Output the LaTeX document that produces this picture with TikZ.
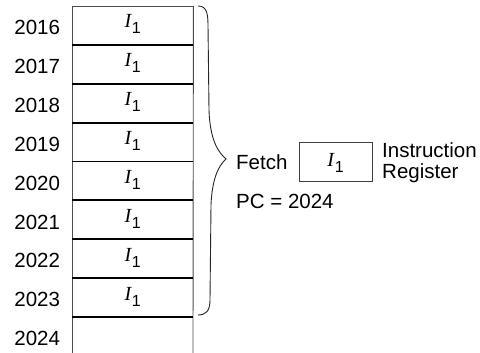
\documentclass[tikz,border=0pt]{standalone}
\usepackage{fontspec}
\setmainfont{Liberation Sans}
\newfontfamily\serifit{Liberation Serif}
% instruction symbol: italic serif I with a sans subscript 1
\newcommand\instrI{{\serifit\itshape\fontsize{20}{20}\selectfont I}\kern0.8pt\raisebox{-6pt}{\fontsize{16}{16}\selectfont 1}}
\begin{document}
\begin{tikzpicture}[x=1pt,y=-1pt,
  txt/.style={font=\fontsize{20.5}{24}\selectfont, inner sep=0pt},
  cell/.style={minimum width=121pt, minimum height=38.875pt, inner sep=0pt, anchor=north west},
  frame/.style={line width=0.9pt, draw=black!70},
  sepline/.style={line width=1.9pt, draw=black},
  bracel/.style={line width=0.9pt, draw=black!85},
]
\useasboundingbox (0,0) rectangle (480,353);

% memory cells
\foreach \i/\addr in {0/2016,1/2017,2/2018,3/2019,4/2020,5/2021,6/2022,7/2023,8/2024}{
  \node[cell] (c\i) at (72,{6+\i*38.875}) {};
  \path (c\i.north) ++(-72.5,28.7) node[txt, anchor=base east] (a\i) {\addr};
}
\foreach \i in {0,...,7}{
  \path (c\i.north) ++(0,22) node[inner sep=0pt, anchor=base] (v\i) {\instrI};
}

% outline and row separators
\coordinate (bl) at (72,353);
\coordinate (br) at (193,353);
\draw[frame] (c0.north west) -- (c0.north east);
\draw[frame] (c0.north west) -- (bl);
\draw[frame] (c0.north east) -- (br);
\foreach \i in {1,...,8}{
  \draw[sepline] (c\i.north west) -- (c\i.north east);
}

% brace over the fetched words
\draw[bracel] (198,6) .. controls (206,6) and (208,12) .. (208,25)
  -- (209,110) .. controls (210,140) and (218,152) .. (226,159)
  .. controls (218,166) and (212,180) .. (211,205)
  -- (210,300) .. controls (210,311) and (206,315) .. (198,315);

% instruction register
\node[txt, anchor=base west] (fetch) at (236,169.5) {Fetch};
\node[draw=black!75, line width=0.9pt, minimum width=73pt, minimum height=39pt, inner sep=0pt] (ir) at (335.5,161.5) {};
\path (ir.north) ++(0,25) node[inner sep=0pt, anchor=base] (irv) {\instrI};
\node[txt, anchor=base west] (ins) at (382,157.3) {Instruction};
\node[txt, anchor=base west] (reg) at (382,178.3) {Register};
\node[txt, anchor=base west] (pc) at (236,208.3) {PC = 2024};
\end{tikzpicture}
\end{document}
